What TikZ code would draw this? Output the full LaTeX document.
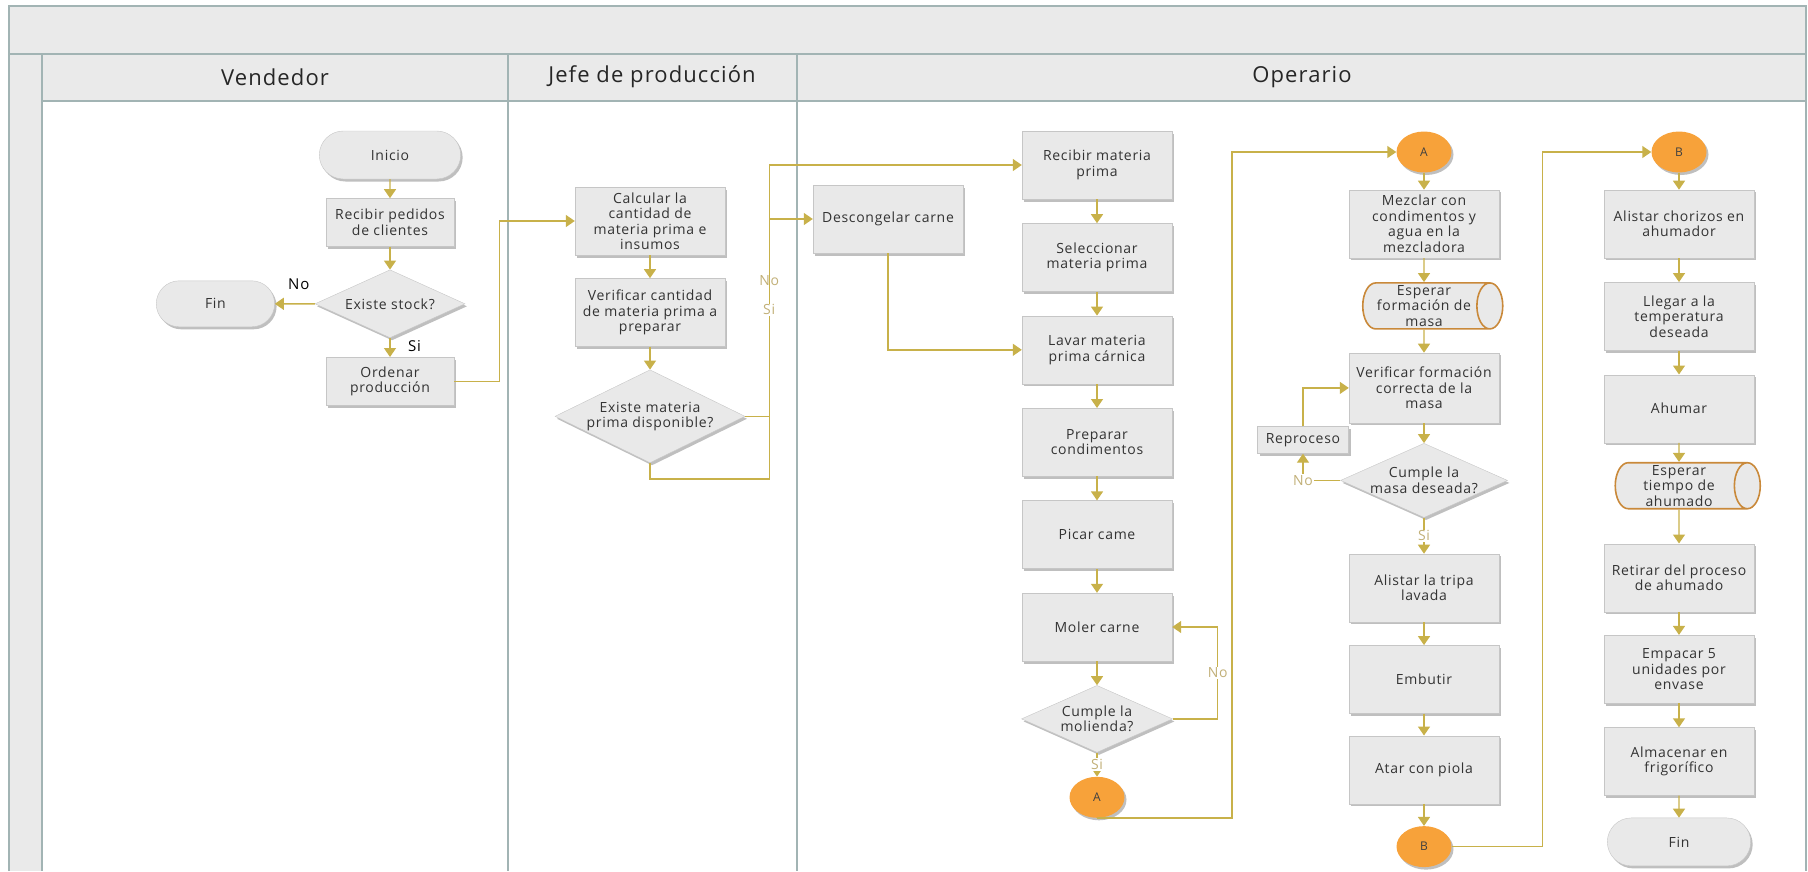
\documentclass[tikz,border=0pt]{standalone}
\usepackage{fontspec}
\setmainfont[LetterSpace=5]{Open Sans}
\usetikzlibrary{shapes,arrows.meta,positioning,calc,shadows}

\definecolor{cajagris}{HTML}{E9E9E9}
\definecolor{bordegris}{HTML}{C6C6C6}
\definecolor{cabecera}{HTML}{EAEAEA}
\definecolor{marcogris}{HTML}{A2B4B4}
\definecolor{dorado}{HTML}{C8B14A}
\definecolor{doradoclaro}{HTML}{C2B078}
\definecolor{naranja}{HTML}{F7A23A}
\definecolor{naranjaborde}{HTML}{C9893A}
\definecolor{texto}{HTML}{333333}

\begin{document}
\begin{tikzpicture}[
        x=1pt, y=-1pt,
        node distance=24pt,
        sombra/.style={drop shadow={shadow xshift=2pt, shadow yshift=-2.5pt, fill=black, opacity=0.25}},
        paso/.style={rectangle, draw=bordegris, fill=cajagris, minimum width=150pt, minimum height=68pt, inner sep=2pt, align=center, text=texto, font=\fontsize{14}{15.5}\selectfont, sombra},
        decision/.style={diamond, draw=bordegris, fill=cajagris, aspect=2.25, minimum width=151pt, minimum height=67pt, inner sep=0pt, align=center, text=texto, font=\fontsize{14}{15.5}\selectfont, sombra},
        terminal/.style={rounded rectangle, draw=bordegris, fill=cajagris, minimum width=148pt, minimum height=48pt, align=center, text=texto, font=\fontsize{14}{15.5}\selectfont, sombra},
        espera/.style={cylinder, draw=naranjaborde, line width=1.6pt, fill=cajagris, shape aspect=0.6, minimum width=46pt, minimum height=140pt, inner sep=1pt, align=center, text=texto, font=\fontsize{14}{15.5}\selectfont},
        conector/.style={ellipse, fill=naranja, minimum width=55pt, minimum height=41pt, inner sep=0pt, text=black!75, font=\fontsize{12}{14}\selectfont, sombra},
        carril/.style={text=black!85, font=\fontsize{22}{26}\selectfont},
        marco/.style={draw=marcogris, line width=1.3pt},
        flujo/.style={-{Triangle[width=12pt,length=9pt]}, draw=dorado, line width=1.4pt},
        etiqueta/.style={text=black, font=\fontsize{15}{17}\selectfont},
        etiquetaclara/.style={fill=white, inner sep=1pt, text=doradoclaro, font=\fontsize{14}{16}\selectfont}
    ]

    % Marco y carriles
    \useasboundingbox (0,0) rectangle (1808,871);
    \fill[cabecera] (9,6) rectangle (1806,101);
    \fill[cabecera] (9,101) rectangle (42,871);
    \draw[marco] (9,871) -- (9,6) -- (1806,6) -- (1806,871);
    \draw[marco] (9,54) -- (1806,54);
    \draw[marco] (42,101) -- (1806,101);
    \draw[marco] (42,54) -- (42,871);
    \draw[marco] (508,54) -- (508,871);
    \draw[marco] (797,54) -- (797,871);

    \node[carril] (vendedor) at (275,77) {Vendedor};
    \node[carril] (jefe) at (652,77) {Jefe de producción};
    \node[carril] (operario) at (1302,77) {Operario};

    % Vendedor
    \node[terminal] (inicio) at (390,155) {Inicio};
    \node[paso, minimum width=128pt, minimum height=48pt, below=19pt of inicio] (pedidos) {Recibir pedidos\\de clientes};
    \node[decision, minimum width=150pt, minimum height=68pt, below=23pt of pedidos] (stock) {Existe stock?};
    \node[paso, minimum width=128pt, minimum height=48pt, below=19pt of stock] (ordenar) {Ordenar\\producción};
    \node[terminal, minimum width=125pt, minimum height=46pt, left=40pt of stock] (fin1) {Fin};

    % Jefe de produccion
    \node[paso] (calcular) at (650,221) {Calcular la\\cantidad de\\materia prima e\\insumos};
    \node[paso, below=23pt of calcular] (verificar) {Verificar cantidad\\de materia prima a\\preparar};
    \node[decision, aspect=2.05, minimum width=190pt, minimum height=93pt, below=23pt of verificar] (disponible) {Existe materia\\prima disponible?};

    % Operario
    \node[paso] (descongelar) at (888,219) {Descongelar carne};

    \node[paso] (recibirmp) at (1097,165) {Recibir materia\\prima};
    \node[paso, below=of recibirmp] (seleccionar) {Seleccionar\\materia prima};
    \node[paso, below=of seleccionar] (lavar) {Lavar materia\\prima cárnica};
    \node[paso, below=of lavar] (preparar) {Preparar\\condimentos};
    \node[paso, below=of preparar] (picar) {Picar came};
    \node[paso, below=of picar] (moler) {Moler carne};
    \node[decision, below=of moler] (molienda) {Cumple la\\molienda?};
    \node[conector, below=of molienda] (a1) {A};

    \node[conector] (a2) at (1424,152) {A};
    \node[paso, below=17pt of a2] (mezclar) {Mezclar con\\condimentos y\\agua en la\\mezcladora};
    \node[espera, below=of mezclar] (espera1) {Esperar\\formación de\\masa};
    \node[paso, minimum height=70pt, below=23pt of espera1] (formacion) {Verificar formación\\correcta de la\\masa};
    \node[decision, minimum height=66pt, below=20pt of formacion] (masa) {Cumple la\\masa deseada?};
    \node[paso, minimum width=91pt, minimum height=27pt] (reproceso) at (1303,440) {Reproceso};
    \node[paso, below=36pt of masa] (tripa) {Alistar la tripa\\lavada};
    \node[paso, below=23pt of tripa] (embutir) {Embutir};
    \node[paso, below=22pt of embutir] (atar) {Atar con piola};
    \node[conector, below=22pt of atar] (b1) {B};

    \node[conector] (b2) at (1679,152) {B};
    \node[paso, below=17pt of b2] (chorizos) {Alistar chorizos en\\ahumador};
    \node[paso, below=of chorizos] (temperatura) {Llegar a la\\temperatura\\deseada};
    \node[paso, below=of temperatura] (ahumar) {Ahumar};
    \node[espera, minimum height=145pt, below=19pt of ahumar] (espera2) {Esperar\\tiempo de\\ahumado};
    \node[paso, below=34pt of espera2] (retirar) {Retirar del proceso\\de ahumado};
    \node[paso, below=23pt of retirar] (empacar) {Empacar 5\\unidades por\\envase};
    \node[paso, below=of empacar] (almacenar) {Almacenar en\\frigorífico};
    \node[terminal, minimum width=150pt, below=22pt of almacenar] (fin2) {Fin};

    % Flujo Vendedor
    \draw[flujo] (inicio) -- (pedidos);
    \draw[flujo] (pedidos) -- (stock);
    \draw[flujo] (stock) -- node[etiqueta, above=10pt, pos=0.4] {No} (fin1);
    \draw[flujo] (stock) -- node[etiqueta, right=14pt, pos=0.45] {Si} (ordenar);
    \draw[flujo] (ordenar.east) -- ++(45,0) |- (calcular.west);

    % Flujo Jefe de produccion
    \draw[flujo] (calcular) -- (verificar);
    \draw[flujo] (verificar) -- (disponible);
    \coordinate (cruce) at ($(disponible.east)+(24,0)$);
    \draw[flujo] (disponible.east) -- (cruce) |- node[etiquetaclara, pos=0.27] {No} (recibirmp.west);
    \draw[flujo] (disponible.south) -- ++(0,16) -| (cruce) |- node[etiquetaclara, pos=0.27] {Si} (descongelar.west);

    % Flujo Operario
    \draw[flujo] (descongelar.south) |- (lavar.west);
    \draw[flujo] (recibirmp) -- (seleccionar);
    \draw[flujo] (seleccionar) -- (lavar);
    \draw[flujo] (lavar) -- (preparar);
    \draw[flujo] (preparar) -- (picar);
    \draw[flujo] (picar) -- (moler);
    \draw[flujo] (moler) -- (molienda);
    \draw[flujo] (molienda.east) -- ++(45,0) |- node[etiquetaclara, pos=0.25] {No} (moler.east);
    \draw[flujo] (molienda) -- node[etiquetaclara] {Si} (a1);
    \draw[flujo] (a1.south) -- ++(135,0) |- (a2.west);

    \draw[flujo] (a2) -- (mezclar);
    \draw[flujo] (mezclar) -- (espera1);
    \draw[flujo] (espera1) -- (formacion);
    \draw[flujo] (formacion) -- (masa);
    \draw[flujo] (masa.west) -| node[etiquetaclara] {No} (reproceso.south);
    \draw[flujo] (reproceso.north) |- (formacion.west);
    \draw[flujo] (masa) -- node[etiquetaclara] {Si} (tripa);
    \draw[flujo] (tripa) -- (embutir);
    \draw[flujo] (embutir) -- (atar);
    \draw[flujo] (atar) -- (b1);
    \draw[flujo] (b1.east) -- ++(91,0) |- (b2.west);

    \draw[flujo] (b2) -- (chorizos);
    \draw[flujo] (chorizos) -- (temperatura);
    \draw[flujo] (temperatura) -- (ahumar);
    \draw[flujo] (ahumar) -- (espera2);
    \draw[flujo] (espera2) -- (retirar);
    \draw[flujo] (retirar) -- (empacar);
    \draw[flujo] (empacar) -- (almacenar);
    \draw[flujo] (almacenar) -- (fin2);

\end{tikzpicture}
\end{document}
